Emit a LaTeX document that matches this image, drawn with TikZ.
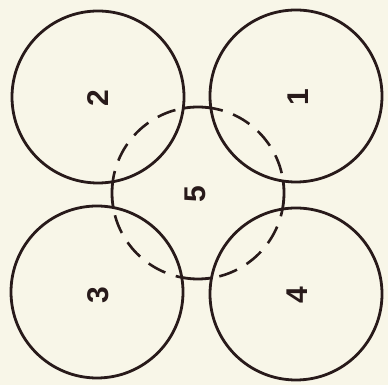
\documentclass[tikz,border=0pt]{standalone}
\usepackage{fontspec}
\setmainfont{Liberation Sans}
\definecolor{bg}{RGB}{248,246,232}
\definecolor{ink}{RGB}{40,26,26}
\begin{document}
\begin{tikzpicture}[x=1pt,y=1pt,
  ring/.style={circle,draw=ink,line width=2.8pt,minimum size=172pt,inner sep=0pt},
  hidden/.style={circle,minimum size=172pt,inner sep=0pt},
  num/.style={text=ink,font=\fontsize{30}{30}\selectfont\bfseries,rotate=90,inner sep=0pt},
  solidarc/.style={draw=ink,line width=2.8pt},
  dasharc/.style={draw=ink,line width=2.6pt,dash pattern=on 19pt off 11pt,dash phase=22pt}]
\useasboundingbox[fill=bg] (0,0) rectangle (388,385);
% circles (y-up coordinates)
\node[ring] (c1) at (296,289) {};
\node[ring] (c2) at (98,288) {};
\node[ring] (c3) at (97,93) {};
\node[ring] (c4) at (296,91) {};
\node[hidden] (c5) at (198,192) {};
% circle 5: solid outside, dashed inside the corner circles
\draw[solidarc] (c5.center) ++(81.4:86) arc (81.4:99.9:86);
\draw[solidarc] (c5.center) ++(172.5:86) arc (172.5:189.7:86);
\draw[solidarc] (c5.center) ++(259.1:86) arc (259.1:279:86);
\draw[solidarc] (c5.center) ++(349.2:86) arc (349.2:368:86);
\draw[dasharc] (c5.center) ++(8:86) arc (8:81.4:86);
\draw[dasharc] (c5.center) ++(99.9:86) arc (99.9:172.5:86);
\draw[dasharc] (c5.center) ++(189.7:86) arc (189.7:259.1:86);
\draw[dasharc] (c5.center) ++(279:86) arc (279:349.2:86);
% labels
\node[num] (l1) at (298,288) {1};
\node[num] (l2) at (98,287) {2};
\node[num] (l3) at (98,90) {3};
\node[num] (l4) at (297,90) {4};
\node[num] (l5) at (195,191) {5};
\end{tikzpicture}
\end{document}
